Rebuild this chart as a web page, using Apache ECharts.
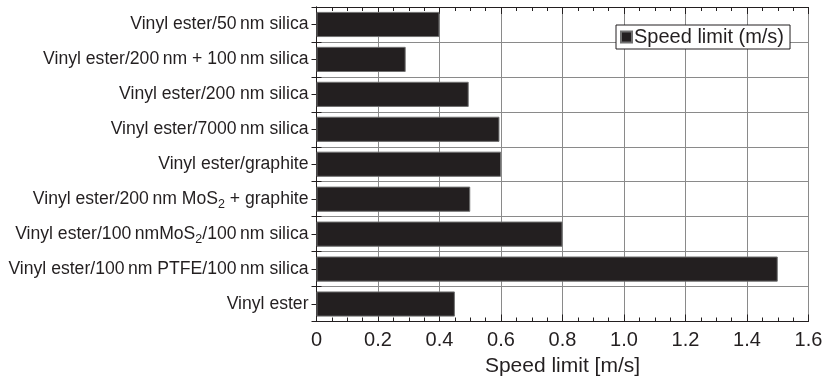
<!DOCTYPE html>
<html>
<head>
<meta charset="utf-8">
<script src="https://cdn.jsdelivr.net/npm/echarts@6/dist/echarts.min.js"></script>
<style>
  html, body { margin: 0; padding: 0; background: #fff; }
  #chart { width: 825px; height: 378px; }
</style>
</head>
<body>
<div id="chart"></div>
<script>
// Coating formulations, listed top to bottom
const categories = [
  'Vinyl ester/50\u2009nm silica',
  'Vinyl ester/200\u2009nm + 100\u2009nm silica',
  'Vinyl ester/200 nm silica',
  'Vinyl ester/7000\u2009nm silica',
  'Vinyl ester/graphite',
  'Vinyl ester/200\u2009nm MoS2 + graphite',
  'Vinyl ester/100\u2009nmMoS2/100\u2009nm silica',
  'Vinyl ester/100\u2009nm PTFE/100\u2009nm silica',
  'Vinyl ester'
];
// Speed limit in m/s, same order
const speedLimit = [0.40, 0.29, 0.495, 0.595, 0.60, 0.50, 0.80, 1.50, 0.45];
const xTicks = { min: 0, max: 1.6, interval: 0.2 };

const ink = '#231f20';
const grid = '#8a8a8a';
const font = 'Liberation Sans, Arial, Helvetica, sans-serif';

// Render "MoS2" with a subscript 2 through rich text
function formatCategory(name) {
  const parts = name.split('MoS2');
  let out = '';
  parts.forEach((p, i) => {
    if (p) out += '{n|' + p + '}';
    if (i < parts.length - 1) out += '{n|MoS}{s|2}';
  });
  return out;
}

const chart = echarts.init(document.getElementById('chart'));
chart.setOption({
  animation: false,
  backgroundColor: '#fff',
  grid: {
    left: 316.5, right: 16.5, top: 7, bottom: 56.5,
    containLabel: false, outerBoundsMode: 'none'
  },
  legend: {
    data: ['Speed limit (m/s)'],
    left: 616, top: 25,
    icon: 'rect', itemWidth: 11, itemHeight: 11,
    backgroundColor: '#fff', borderColor: ink, borderWidth: 1, borderRadius: 0,
    padding: [2, 6, 2, 4],
    textStyle: { color: ink, fontFamily: font, fontSize: 20, padding: [0, 0, 0, -3] }
  },
  xAxis: [
    {
      type: 'value', min: xTicks.min, max: xTicks.max, interval: xTicks.interval,
      position: 'bottom',
      name: 'Speed limit [m/s]', nameLocation: 'middle', nameGap: 31,
      nameTextStyle: { color: ink, fontFamily: font, fontSize: 21 },
      axisLine: { show: true, lineStyle: { color: ink, width: 1 } },
      axisTick: { show: true, inside: true, length: 7, lineStyle: { color: ink } },
      minorTick: { show: true, splitNumber: 4, length: 4, lineStyle: { color: ink } },
      axisLabel: {
        color: ink, fontFamily: font, fontSize: 20, margin: 9,
        formatter: v => (v === 0 ? '0' : v.toFixed(1))
      },
      splitLine: { show: true, lineStyle: { color: grid, width: 1 } }
    },
    {
      type: 'value', min: xTicks.min, max: xTicks.max, interval: xTicks.interval,
      position: 'top',
      axisLine: { show: true, lineStyle: { color: ink, width: 1 } },
      axisTick: { show: true, inside: true, length: 7, lineStyle: { color: ink } },
      minorTick: { show: true, splitNumber: 4, length: 4, lineStyle: { color: ink } },
      axisLabel: { show: false },
      splitLine: { show: false }
    }
  ],
  yAxis: [
    {
      type: 'category', data: categories, inverse: true,
      axisLine: { show: true, lineStyle: { color: ink, width: 1 } },
      axisTick: { show: true, inside: true, length: 5, lineStyle: { color: ink } },
      axisLabel: {
        margin: 8,
        formatter: formatCategory,
        rich: {
          n: { color: ink, fontFamily: font, fontSize: 17.6 },
          s: { color: ink, fontFamily: font, fontSize: 12.5, verticalAlign: 'bottom', padding: [11, 0, 0, 0] }
        }
      },
      splitLine: { show: true, lineStyle: { color: grid, width: 1 } }
    },
    {
      type: 'value', min: 0, max: categories.length, interval: 1,
      position: 'right',
      axisLine: { show: true, lineStyle: { color: ink, width: 1 } },
      axisTick: { show: true, inside: true, length: 5, lineStyle: { color: ink } },
      minorTick: { show: true, splitNumber: 2, length: 5, lineStyle: { color: ink } },
      axisLabel: { show: false },
      splitLine: { show: false }
    }
  ],
  series: [
    {
      name: 'Speed limit (m/s)',
      type: 'bar',
      xAxisIndex: 0, yAxisIndex: 0,
      data: speedLimit,
      barCategoryGap: '28%',
      itemStyle: { color: ink, borderColor: '#707070', borderWidth: 1 },
      z: 3
    }
  ]
});
</script>
</body>
</html>
